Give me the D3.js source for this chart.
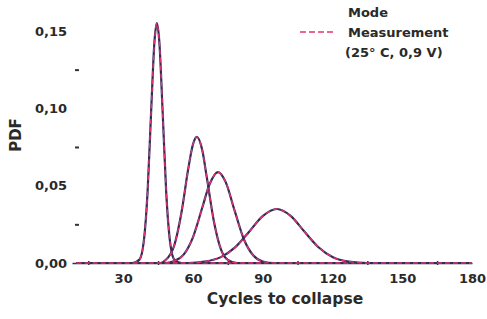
<!DOCTYPE html>
<html>
<head>
<meta charset="utf-8">
<script src="https://cdn.jsdelivr.net/npm/d3@7"></script>
<style>
  body { margin: 0; background: #fff; }
  text { font-family: "DejaVu Sans", Verdana, sans-serif; font-weight: bold; fill: #2a2a2a; }
</style>
</head>
<body>
<div id="chart"></div>
<script>
// tick labels
var xTicks = [30, 60, 90, 120, 150, 180];
var xMinor = [15, 45, 75, 105, 135, 165];
var yTicks = [0, 0.05, 0.10, 0.15];
var yMinor = [0.025, 0.075, 0.125];

// curves: cycles, pdf
var cycles1 = [10, 34, 37, 39, 40.5, 42, 43.5, 44.5, 45.5, 47, 48.5, 50, 52, 55, 180];
var pdf1 = [0, 0, 0.0022, 0.0157, 0.046, 0.097, 0.144, 0.155, 0.144, 0.097, 0.046, 0.0157, 0.0022, 0, 0];

var cycles2 = [10, 46, 48, 52, 55, 58, 60, 61.7, 64, 66, 69, 72, 75, 79, 180];
var pdf2 = [0, 0, 0.0016, 0.0115, 0.032, 0.061, 0.0766, 0.0815, 0.073, 0.055, 0.027, 0.009, 0.002, 0, 0];

var cycles3 = [10, 48, 52, 56, 60, 64, 67, 70.8, 74, 78, 82, 86, 90, 95, 180];
var pdf3 = [0, 0, 0.0013, 0.0054, 0.0166, 0.0357, 0.0503, 0.0588, 0.0526, 0.0335, 0.015, 0.0048, 0.001, 0, 0];

var cycles4 = [10, 58, 65, 72, 78, 84, 90, 96.1, 102, 108, 114, 120, 127, 135, 180];
var pdf4 = [0, 0, 0.0009, 0.0038, 0.0099, 0.0199, 0.0303, 0.0349, 0.0305, 0.0202, 0.0102, 0.0039, 0.0009, 0, 0];

var curves = [[cycles1, pdf1], [cycles2, pdf2], [cycles3, pdf3], [cycles4, pdf4]];

var width = 487, height = 319;

var svg = d3.select("#chart")
    .append("svg")
    .attr("width", width)
    .attr("height", height);

var x = d3.scaleLinear()
    .domain([8, 180])
    .range([72, 472]);

var y = d3.scaleLinear()
    .domain([0, 0.16])
    .range([263, 263 - 0.16 * 1547]);

var comma = d3.formatLocale({decimal: ",", thousands: ".", grouping: [3], currency: ["", ""]});

// x axis: minor ticks on the line, labels at majors
var xMinorAxis = svg.append("g")
    .attr("transform", "translate(0,263)")
    .call(d3.axisBottom(x).tickValues(xMinor).tickSize(3).tickSizeOuter(0).tickFormat(""));
xMinorAxis.select(".domain").attr("stroke", "#3a2f4a").attr("stroke-width", 1.6);
xMinorAxis.selectAll(".tick line").attr("stroke", "#333").attr("stroke-width", 1.5)
    .attr("y1", -2).attr("y2", 2);

var xLab = svg.append("g")
    .attr("transform", "translate(0,263)")
    .call(d3.axisBottom(x).tickValues(xTicks).tickSize(0).tickPadding(11));
xLab.select(".domain").remove();
xLab.selectAll("text").style("font-size", "13px").style("font-family", "DejaVu Sans").style("font-weight", "bold").attr("fill", "#2a2a2a");

// y axis: labels and small dashes, no line
var yLab = svg.append("g")
    .attr("transform", "translate(72,0)")
    .call(d3.axisLeft(y).tickValues(yTicks).tickSize(0).tickPadding(5).tickFormat(comma.format(".2f")));
yLab.select(".domain").remove();
yLab.selectAll("text").style("font-size", "13px").style("font-family", "DejaVu Sans").style("font-weight", "bold").attr("fill", "#2a2a2a");

var yMin = svg.append("g")
    .attr("transform", "translate(75,0)")
    .call(d3.axisRight(y).tickValues(yMinor).tickSize(4).tickFormat(""));
yMin.select(".domain").remove();
yMin.selectAll(".tick line").attr("stroke", "#333").attr("stroke-width", 2);

// curves
var line = d3.line()
    .x(function(d) { return x(d[0]); })
    .y(function(d) { return y(d[1]); })
    .curve(d3.curveMonotoneX);

curves.forEach(function(c) {
    var pts = c[0].map(function(v, i) { return [v, c[1][i]]; });
    svg.append("path")
        .attr("d", line(pts))
        .attr("fill", "none")
        .attr("stroke", "#2e2c5c")
        .attr("stroke-width", 2.2);
    svg.append("path")
        .attr("d", line(pts))
        .attr("fill", "none")
        .attr("stroke", "#e3336b")
        .attr("stroke-width", 1.4)
        .attr("stroke-dasharray", "5,3");
});

// legend
svg.append("text").attr("x", 348).attr("y", 17).style("font-size", "13px").text("Mode");
svg.append("line")
    .attr("x1", 300).attr("x2", 336).attr("y1", 32).attr("y2", 32)
    .attr("stroke", "#e3336b").attr("stroke-width", 1.6).attr("stroke-dasharray", "6,3");
svg.append("text").attr("x", 348).attr("y", 37).style("font-size", "13px").text("Measurement");
svg.append("text").attr("x", 345).attr("y", 57).style("font-size", "13px").text("(25° C, 0,9 V)");

// axis titles
svg.append("text")
    .attr("x", 285).attr("y", 304)
    .attr("text-anchor", "middle")
    .style("font-size", "15.5px")
    .text("Cycles to collapse");

svg.append("text")
    .attr("transform", "translate(21,135) rotate(-90)")
    .attr("text-anchor", "middle")
    .style("font-size", "15px")
    .text("PDF");
</script>
</body>
</html>
